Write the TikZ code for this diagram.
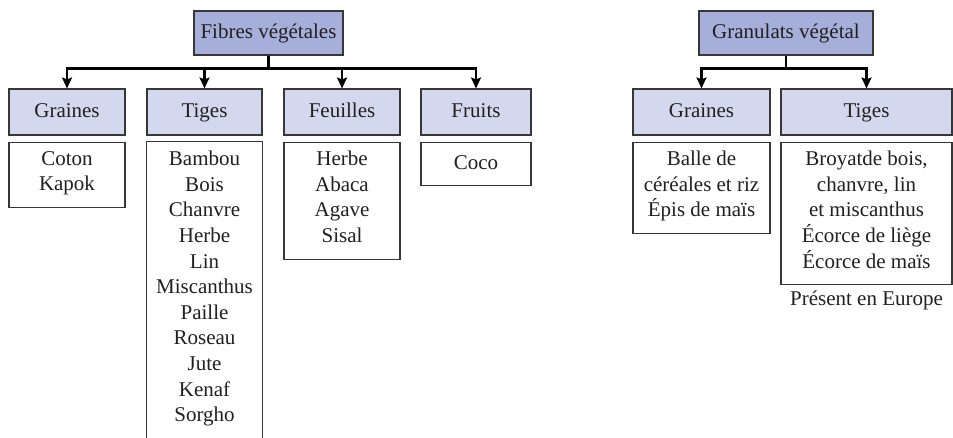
\documentclass[tikz,border=0pt]{standalone}
\usepackage{fontspec}
\setmainfont{Liberation Serif}
\usetikzlibrary{positioning, arrows.meta}
\definecolor{topfill}{RGB}{165,175,218}
\definecolor{catfill}{RGB}{212,216,238}
\definecolor{frame}{RGB}{55,55,55}
\definecolor{ink}{RGB}{35,31,32}

\begin{document}
\begin{tikzpicture}[x=1pt, y=1pt,
    every node/.style={font=\fontsize{21}{25.6}\selectfont, text=ink, align=center, inner sep=0pt,
        execute at begin node=\strut, execute at end node=\strut},
    topbox/.style={draw=frame, line width=1.1pt, fill=topfill, minimum width=#1, minimum height=44pt},
    catbox/.style={draw=frame, line width=1.1pt, fill=catfill, minimum width=#1, minimum height=46pt},
    listbox/.style={draw=frame, line width=1.1pt, fill=white, minimum width=#1, inner ysep=9pt},
    openbox/.style={listbox=#1, draw=none},
    branch/.style={draw, -{Stealth[length=11pt, width=10pt, inset=2pt]}, line width=2.3pt}
]
\useasboundingbox (0,0) rectangle (953,437);

% Fibres vegetales
\node[topbox=149pt] (fib) at (268.5,404) {Fibres végétales};
\node[catbox=116pt] (fgr) at (67,325) {Graines};
\node[catbox=115pt] (ftg) at (204.5,325) {Tiges};
\node[catbox=116pt] (ffe) at (342,325) {Feuilles};
\node[catbox=110pt] (ffr) at (476,325) {Fruits};

\node[listbox=116pt, below=6pt of fgr] (fgrl) {Coton\\Kapok};
\node[openbox=115pt, below=6pt of ftg] (ftgl) {Bambou\\Bois\\Chanvre\\Herbe\\Lin\\Miscanthus\\Paille\\Roseau\\Jute\\Kenaf\\Sorgho};
\draw[frame, line width=1.1pt] ([yshift=-20pt]ftgl.south west) -- (ftgl.north west)
    -- (ftgl.north east) -- ([yshift=-20pt]ftgl.south east);
\node[listbox=116pt, below=6pt of ffe] (ffel) {Herbe\\Abaca\\Agave\\Sisal};
\node[listbox=110pt, below=6pt of ffr] (ffrl) {Coco};

\foreach \c in {fgr,ftg,ffe,ffr}
    \draw[branch] (fib.south) -- ++(0,-13pt) -| (\c.north);

% Granulats vegetal
\node[topbox=174pt] (gran) at (786,404) {Granulats végétal};
\node[catbox=137pt] (ggr) at (701.5,325) {Graines};
\node[catbox=171pt] (gtg) at (866.5,325) {Tiges};

\node[listbox=137pt, below=6pt of ggr] (ggrl) {Balle de\\céréales et riz\\Épis de maïs};
\node[listbox=171pt, below=6pt of gtg] (gtgl) {Broyatde bois,\\chanvre, lin\\et miscanthus\\Écorce de liège\\Écorce de maïs};
\node[below=2pt of gtgl] (europe) {Présent en Europe};

\foreach \c in {ggr,gtg}
    \draw[branch] (gran.south) -- ++(0,-13pt) -| (\c.north);
\end{tikzpicture}
\end{document}
